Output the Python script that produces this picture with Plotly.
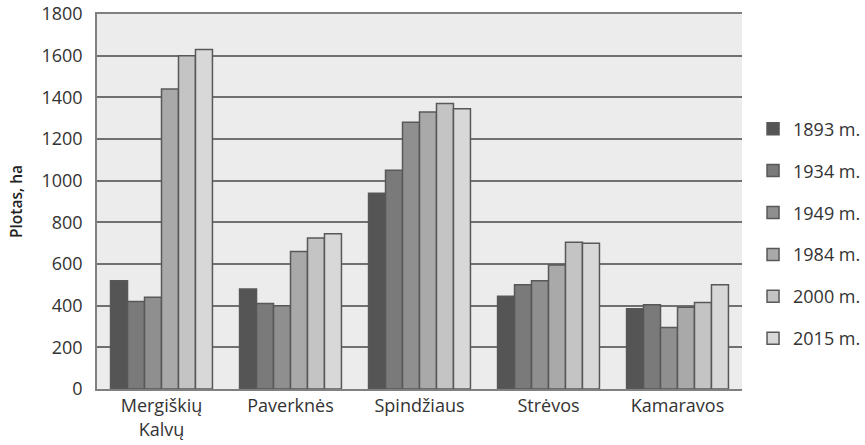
import plotly.graph_objects as go

categories = ["Mergiškių<br>Kalvų", "Paverknės", "Spindžiaus", "Strėvos", "Kamaravos"]
years = ["1893 m.", "1934 m.", "1949 m.", "1984 m.", "2000 m.", "2015 m."]
v1893 = [520, 480, 940, 445, 385]
v1934 = [420, 410, 1050, 500, 405]
v1949 = [440, 400, 1280, 520, 295]
v1984 = [1440, 660, 1330, 595, 393]
v2000 = [1600, 725, 1370, 705, 415]
v2015 = [1630, 745, 1345, 700, 500]
series = [v1893, v1934, v1949, v1984, v2000, v2015]
colors = ["#555555", "#7a7a7a", "#8f8f8f", "#a9a9a9", "#c4c4c4", "#d8d8d8"]

fig = go.Figure()
for i, (name, vals) in enumerate(zip(years, series)):
    fig.add_trace(go.Bar(
        x=categories, y=vals, name=name, legendgroup=name,
        marker=dict(color=colors[i], line=dict(color="#585858", width=1.5)),
    ))

fig.update_layout(
    width=865, height=445,
    margin=dict(l=97, r=123, t=14, b=56, autoexpand=False),
    paper_bgcolor="white", plot_bgcolor="#ececec",
    barmode="group", bargap=0.21, bargroupgap=0,
    font=dict(family="Open Sans", size=18, color="#333333"),
    legend=dict(x=1.0171, y=0.4147, yanchor="middle", xanchor="left",
                traceorder="grouped", tracegroupgap=15.5,
                font=dict(size=18, color="#333333")),
    xaxis=dict(showline=True, linecolor="#808080", linewidth=1.5, mirror=True,
               ticks="", tickfont=dict(size=18), automargin=False),
    yaxis=dict(range=[0, 1800], dtick=200, showgrid=True,
               gridcolor="#707070", gridwidth=1.5,
               showline=True, linecolor="#808080", linewidth=1.5,
               zeroline=False, ticks="", ticklabelstandoff=9, automargin=False,
               ticklabeloverflow="allow",
               title=dict(text="Plotas, ha",
                          font=dict(size=15.5, color="#222222", weight=600), standoff=15),
               tickfont=dict(size=18)),
)

fig.write_html("out.html", config={"displayModeBar": False},
               post_script="document.body.style.margin='0';")
